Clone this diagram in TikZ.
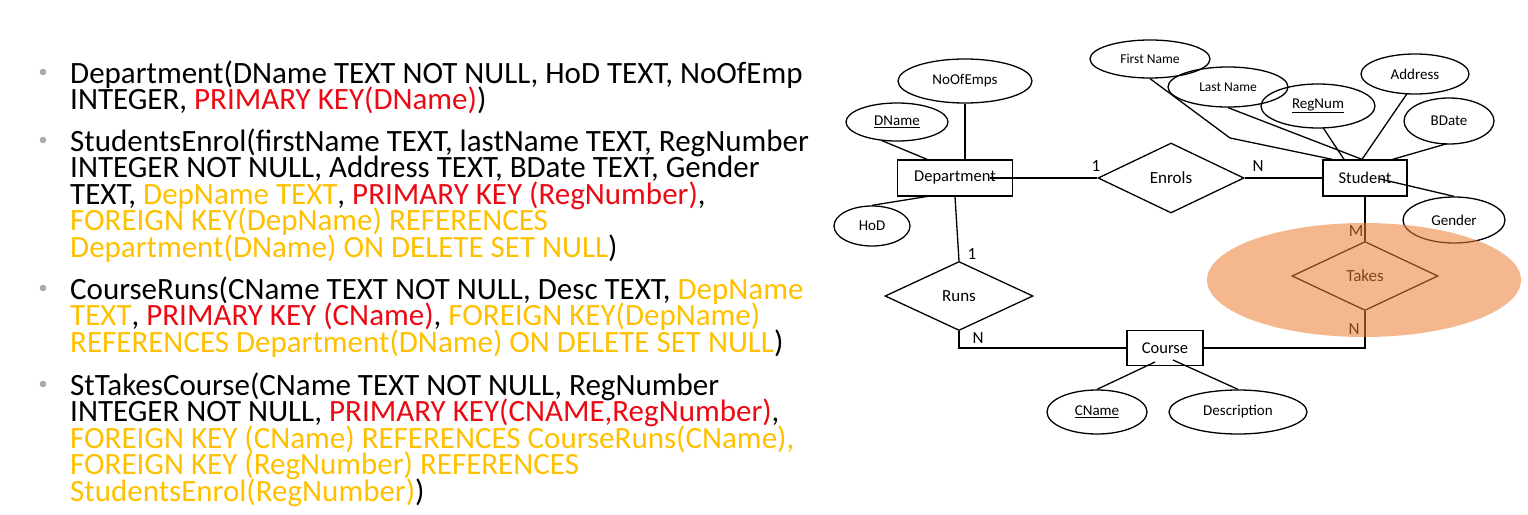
\documentclass[tikz,border=0pt]{standalone}
\usepackage{fontspec}
\setmainfont{Carlito}
\usetikzlibrary{shapes.geometric,calc}

\definecolor{keyred}{RGB}{235,10,20}
\definecolor{fkgold}{RGB}{255,192,0}
\definecolor{bulletgray}{RGB}{170,170,176}
\definecolor{takesorange}{RGB}{237,125,49}
\newcommand{\pkey}[1]{\textcolor{keyred}{#1}}
\newcommand{\fkey}[1]{\textcolor{fkgold}{#1}}
\setlength{\lineskiplimit}{-20pt}

\tikzset{
  schema/.style={anchor=base west, align=left, inner sep=0pt, font=\fontsize{31}{26.5}\selectfont},
  entity/.style={draw, line width=1.3pt, minimum width=#1, minimum height=36pt, inner sep=0pt, font=\fontsize{16.5}{18}\selectfont},
  attr/.style={ellipse, draw, line width=1.3pt, inner sep=0pt, font=\fontsize{15}{17}\selectfont},
  rel/.style={diamond, draw, line width=1.3pt, minimum width=146pt, minimum height=70pt, inner sep=0pt, font=\fontsize{17}{19}\selectfont},
  card/.style={inner sep=0pt, font=\fontsize{17}{19}\selectfont},
  link/.style={line width=1.3pt}
}

\begin{document}
\begin{tikzpicture}[x=1pt, y=-1pt]
        \useasboundingbox (0,0) rectangle (1528,514);

        % Bullets of the schema list
        \foreach \y in {83,151,299,395} {
            \fill[bulletgray] (43,\y-11) circle (3.3);
        }

        % The relational schema (placed at the baseline of the last line)
        \node[schema] (depschema) at (70,109.5) {Department(DName TEXT NOT NULL, HoD TEXT, NoOfEmp\\
            INTEGER, \pkey{PRIMARY KEY(DName)})};
        \node[schema] (stuschema) at (70,257) {StudentsEnrol(firstName TEXT, lastName TEXT, RegNumber\\
            INTEGER NOT NULL, Address TEXT, BDate TEXT, Gender\\
            TEXT, \fkey{DepName TEXT}, \pkey{PRIMARY KEY (RegNumber)},\\
            \fkey{FOREIGN KEY(DepName) REFERENCES}\\
            \fkey{Department(DName) ON DELETE SET NULL})};
        \node[schema] (crsschema) at (70,352) {CourseRuns(CName TEXT NOT NULL, Desc TEXT, \fkey{DepName}\\
            \fkey{TEXT}, \pkey{PRIMARY KEY (CName)}, \fkey{FOREIGN KEY(DepName)}\\
            \fkey{REFERENCES Department(DName) ON DELETE SET NULL})};
        \node[schema] (tkschema) at (70,501) {StTakesCourse(CName TEXT NOT NULL, RegNumber\\
            INTEGER NOT NULL, \pkey{PRIMARY KEY(CNAME,RegNumber)},\\
            \fkey{FOREIGN KEY (CName) REFERENCES CourseRuns(CName),}\\
            \fkey{FOREIGN KEY (RegNumber) REFERENCES}\\
            \fkey{StudentsEnrol(RegNumber)})};

        % Entities and relationships
        \node[entity=115pt] (dept) at (955,178) {Department};
        \node[entity=84pt] (student) at (1365,178) {Student};
        \node[entity=76pt, minimum height=35pt] (course) at (1165,348) {Course};
        \node[rel] (enrols) at (1171,178) {Enrols};
        \node[rel, minimum width=148pt, minimum height=69pt] (runs) at (959,296) {Runs};
        \node[rel, minimum height=69pt] (takes) at (1365,276) {Takes};

        % Attributes
        \node[attr, minimum width=134pt, minimum height=44pt] (noofemps) at (965,81) {NoOfEmps};
        \node[attr, minimum width=102pt, minimum height=38pt] (dname) at (897,122) {\underline{DName}};
        \node[attr, minimum width=76pt, minimum height=40pt] (hod) at (872,226) {HoD};
        \node[attr, minimum width=120pt, minimum height=38pt, font=\fontsize{13.5}{15}\selectfont] (fname) at (1150,59) {First Name};
        \node[attr, minimum width=120pt, minimum height=40pt, font=\fontsize{13.5}{15}\selectfont] (lname) at (1228,87) {Last Name};
        \node[attr, minimum width=114pt, minimum height=44pt] (regnum) at (1318,106) {\underline{RegNum}};
        \node[attr, minimum width=108pt, minimum height=40pt] (address) at (1415,74) {Address};
        \node[attr, minimum width=90pt, minimum height=46pt] (bdate) at (1449,121) {BDate};
        \node[attr, minimum width=102pt, minimum height=46pt] (gender) at (1454,220) {Gender};
        \node[attr, minimum width=100pt, minimum height=44pt] (cname) at (1097,412) {\underline{CName}};
        \node[attr, minimum width=138pt, minimum height=44pt] (desc) at (1238,412) {Description};

        % Attribute links
        \draw[link] (noofemps.south) -- (noofemps.south |- dept.north);
        \draw[link] ($(dname.south)+(-15,-1)$) -- ($(dept.north)+(-28,0)$);
        \draw[link] (hod.north) -- ($(dept.south)+(-23,-1)$);
        \draw[link] (fname.south) -- (1230,138) -- ($(student.north west)+(10,0)$);
        \draw[link] (lname.south) -- ($(student.north)+(-3,0)$);
        \draw[link] ($(regnum.south)+(5,-1)$) -- ($(student.north)+(-21,0)$);
        \draw[link] ($(address.south)+(-8,-1)$) -- ($(student.north)+(-3,0)$);
        \draw[link] ($(bdate.south)+(-2,-1)$) -- ($(student.north east)+(-15,0)$);
        \draw[link] ($(student.center)+(15,1)$) -- (gender.north);
        \draw[link] ($(course.center)+(-10,14)$) -- (cname.north);
        \draw[link] ($(course.center)+(8,12)$) -- (desc.north);

        % Relationship links
        \draw[link] ($(dept.center)+(35,0)$) -- (enrols.west);
        \draw[link] (enrols.east) -- (student.west);
        \draw[link] (dept.south) -- (runs.north);
        \draw[link] (runs.south) |- (course.west);
        \draw[link] (student.south) -- (takes.north);
        \draw[link] (course.east) -| (takes.south);

        % Cardinalities
        \node[card] (c1) at (1096,166) {1};
        \node[card] (c2) at (1258,166) {N};
        \node[card] (c3) at (972,254) {1};
        \node[card] (c4) at (978,338) {N};
        \node[card] (c5) at (1356,231) {M};
        \node[card] (c6) at (1354,329) {N};

        % Highlight over Takes
        \fill[takesorange, fill opacity=0.55] (1364,280) ellipse (157 and 57);
    \end{tikzpicture}
\end{document}
